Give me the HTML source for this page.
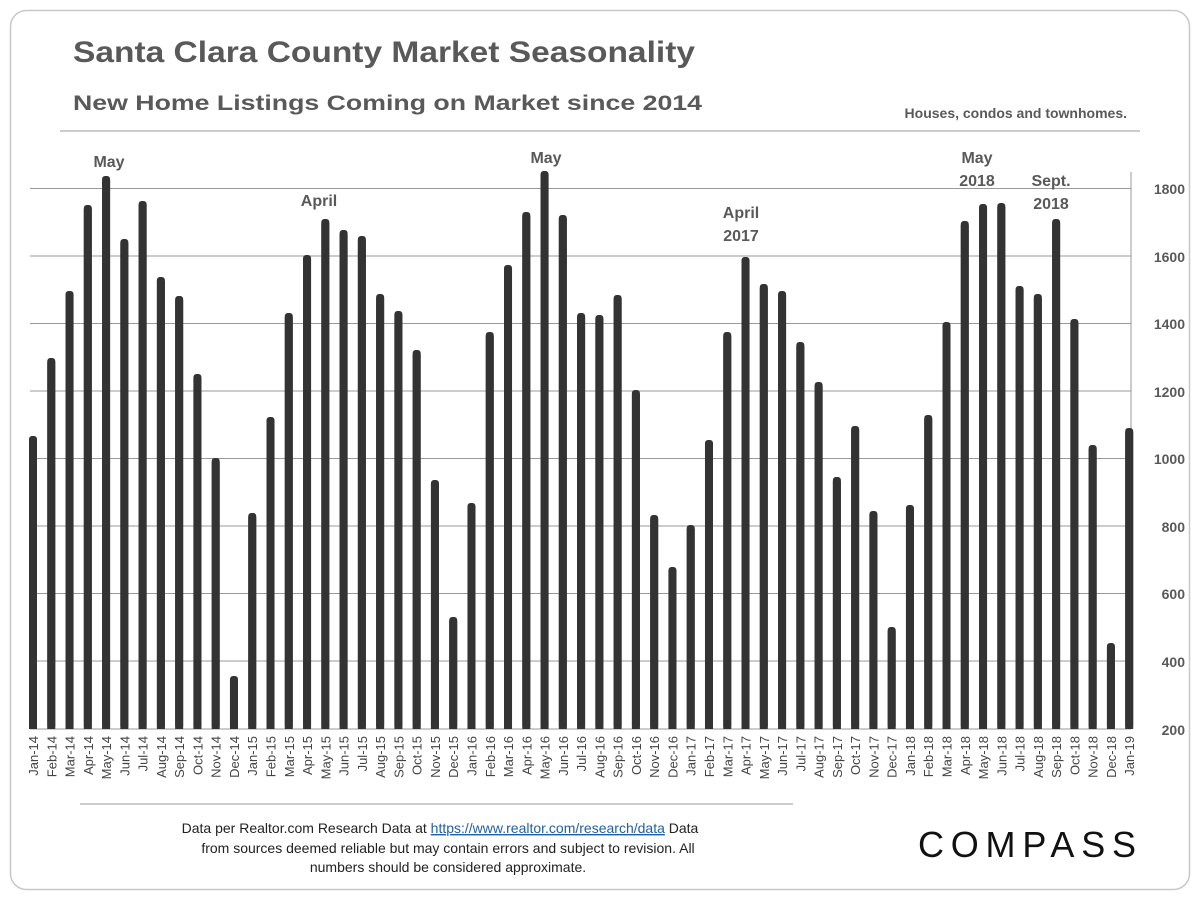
<!DOCTYPE html>
<html><head><meta charset="utf-8"><style>
html,body{margin:0;padding:0;background:#fff;}
svg{display:block;font-family:"Liberation Sans",Arial,sans-serif;}
</style></head><body>
<svg width="1200" height="900" viewBox="0 0 1200 900" xmlns="http://www.w3.org/2000/svg">
<rect x="10.5" y="10.5" width="1179" height="879" rx="16" fill="#fff" stroke="#c8c8c8" stroke-width="1.5"/>
<text x="73" y="62" font-size="30" font-weight="bold" fill="#595959" textLength="622" lengthAdjust="spacingAndGlyphs">Santa Clara County Market Seasonality</text>
<text x="73" y="110" font-size="21" font-weight="bold" fill="#595959" textLength="629" lengthAdjust="spacingAndGlyphs">New Home Listings Coming on Market since 2014</text>
<text x="1127" y="118" font-size="14" font-weight="bold" fill="#595959" text-anchor="end">Houses, condos and townhomes.</text>
<line x1="60" y1="131" x2="1140" y2="131" stroke="#bbb" stroke-width="1.5"/>
<g stroke="#999" stroke-width="1">
<line x1="30" y1="188.5" x2="1131" y2="188.5"/>
<line x1="30" y1="256" x2="1131" y2="256"/>
<line x1="30" y1="323.5" x2="1131" y2="323.5"/>
<line x1="30" y1="391" x2="1131" y2="391"/>
<line x1="30" y1="458.5" x2="1131" y2="458.5"/>
<line x1="30" y1="526" x2="1131" y2="526"/>
<line x1="30" y1="593.5" x2="1131" y2="593.5"/>
<line x1="30" y1="661" x2="1131" y2="661"/>
<line x1="30" y1="729" x2="1131" y2="729"/>
<line x1="1131" y1="172" x2="1131" y2="729"/>
</g>
<g font-size="14" font-weight="bold" fill="#595959" text-anchor="end">
<text x="1185" y="194">1800</text><text x="1185" y="262">1600</text><text x="1185" y="329">1400</text><text x="1185" y="397">1200</text><text x="1185" y="464">1000</text><text x="1185" y="532">800</text><text x="1185" y="599">600</text><text x="1185" y="667">400</text><text x="1185" y="735">200</text>
</g>
<g id="bars" fill="#333"></g>
<g id="labels" font-size="13" fill="#444" text-anchor="end"></g>
<g font-size="16" font-weight="bold" fill="#595959" text-anchor="middle">
<text x="109" y="167">May</text>
<text x="319" y="206">April</text>
<text x="546" y="163">May</text>
<text x="741" y="218">April</text><text x="741" y="241">2017</text>
<text x="977" y="163">May</text><text x="977" y="186">2018</text>
<text x="1051" y="186">Sept.</text><text x="1051" y="209">2018</text>
</g>
<line x1="80" y1="804" x2="793" y2="804" stroke="#bbb" stroke-width="1.5"/>
<g font-size="14" fill="#222" text-anchor="middle">
<text x="440" y="833">Data per Realtor.com Research Data at <tspan fill="#1f5fa8" text-decoration="underline">https://www.realtor.com/research/data</tspan>  Data</text>
<text x="448" y="853">from sources deemed reliable but may contain errors and subject to revision.  All</text>
<text x="448" y="872">numbers should be considered approximate.</text>
</g>
<text x="1027" y="857" font-size="36" fill="#111" text-anchor="middle" textLength="218" lengthAdjust="spacing">COMPASS</text>
</svg>
<script>
var tops=[436,358,291,205,176,239,201,277,296,374,458,676,513,417,313,255,219,230,236,294,311,350,480,617,503,332,265,212,171,215,313,315,295,390,515,567,525,440,332,257,284,291,342,382,477,426,511,627,505,415,322,221,204,203,286,294,219,319,445,643,428];
var m=["Jan","Feb","Mar","Apr","May","Jun","Jul","Aug","Sep","Oct","Nov","Dec"];
var b="",l="";
for(var i=0;i<61;i++){var x=33+i*18.27;var t=tops[i];
b+='<rect x="'+(x-4)+'" y="'+t+'" width="8" height="'+(729-t)+'" rx="3"/><rect x="'+(x-4)+'" y="'+(t+4)+'" width="8" height="'+(729-t-4)+'"/>';
var lab=m[i%12]+"-"+(14+Math.floor(i/12));
l+='<text transform="translate('+(x+5)+',736) rotate(-90)">'+lab+'</text>';}
document.getElementById("bars").innerHTML=b;
document.getElementById("labels").innerHTML=l;
</script>
</body></html>
